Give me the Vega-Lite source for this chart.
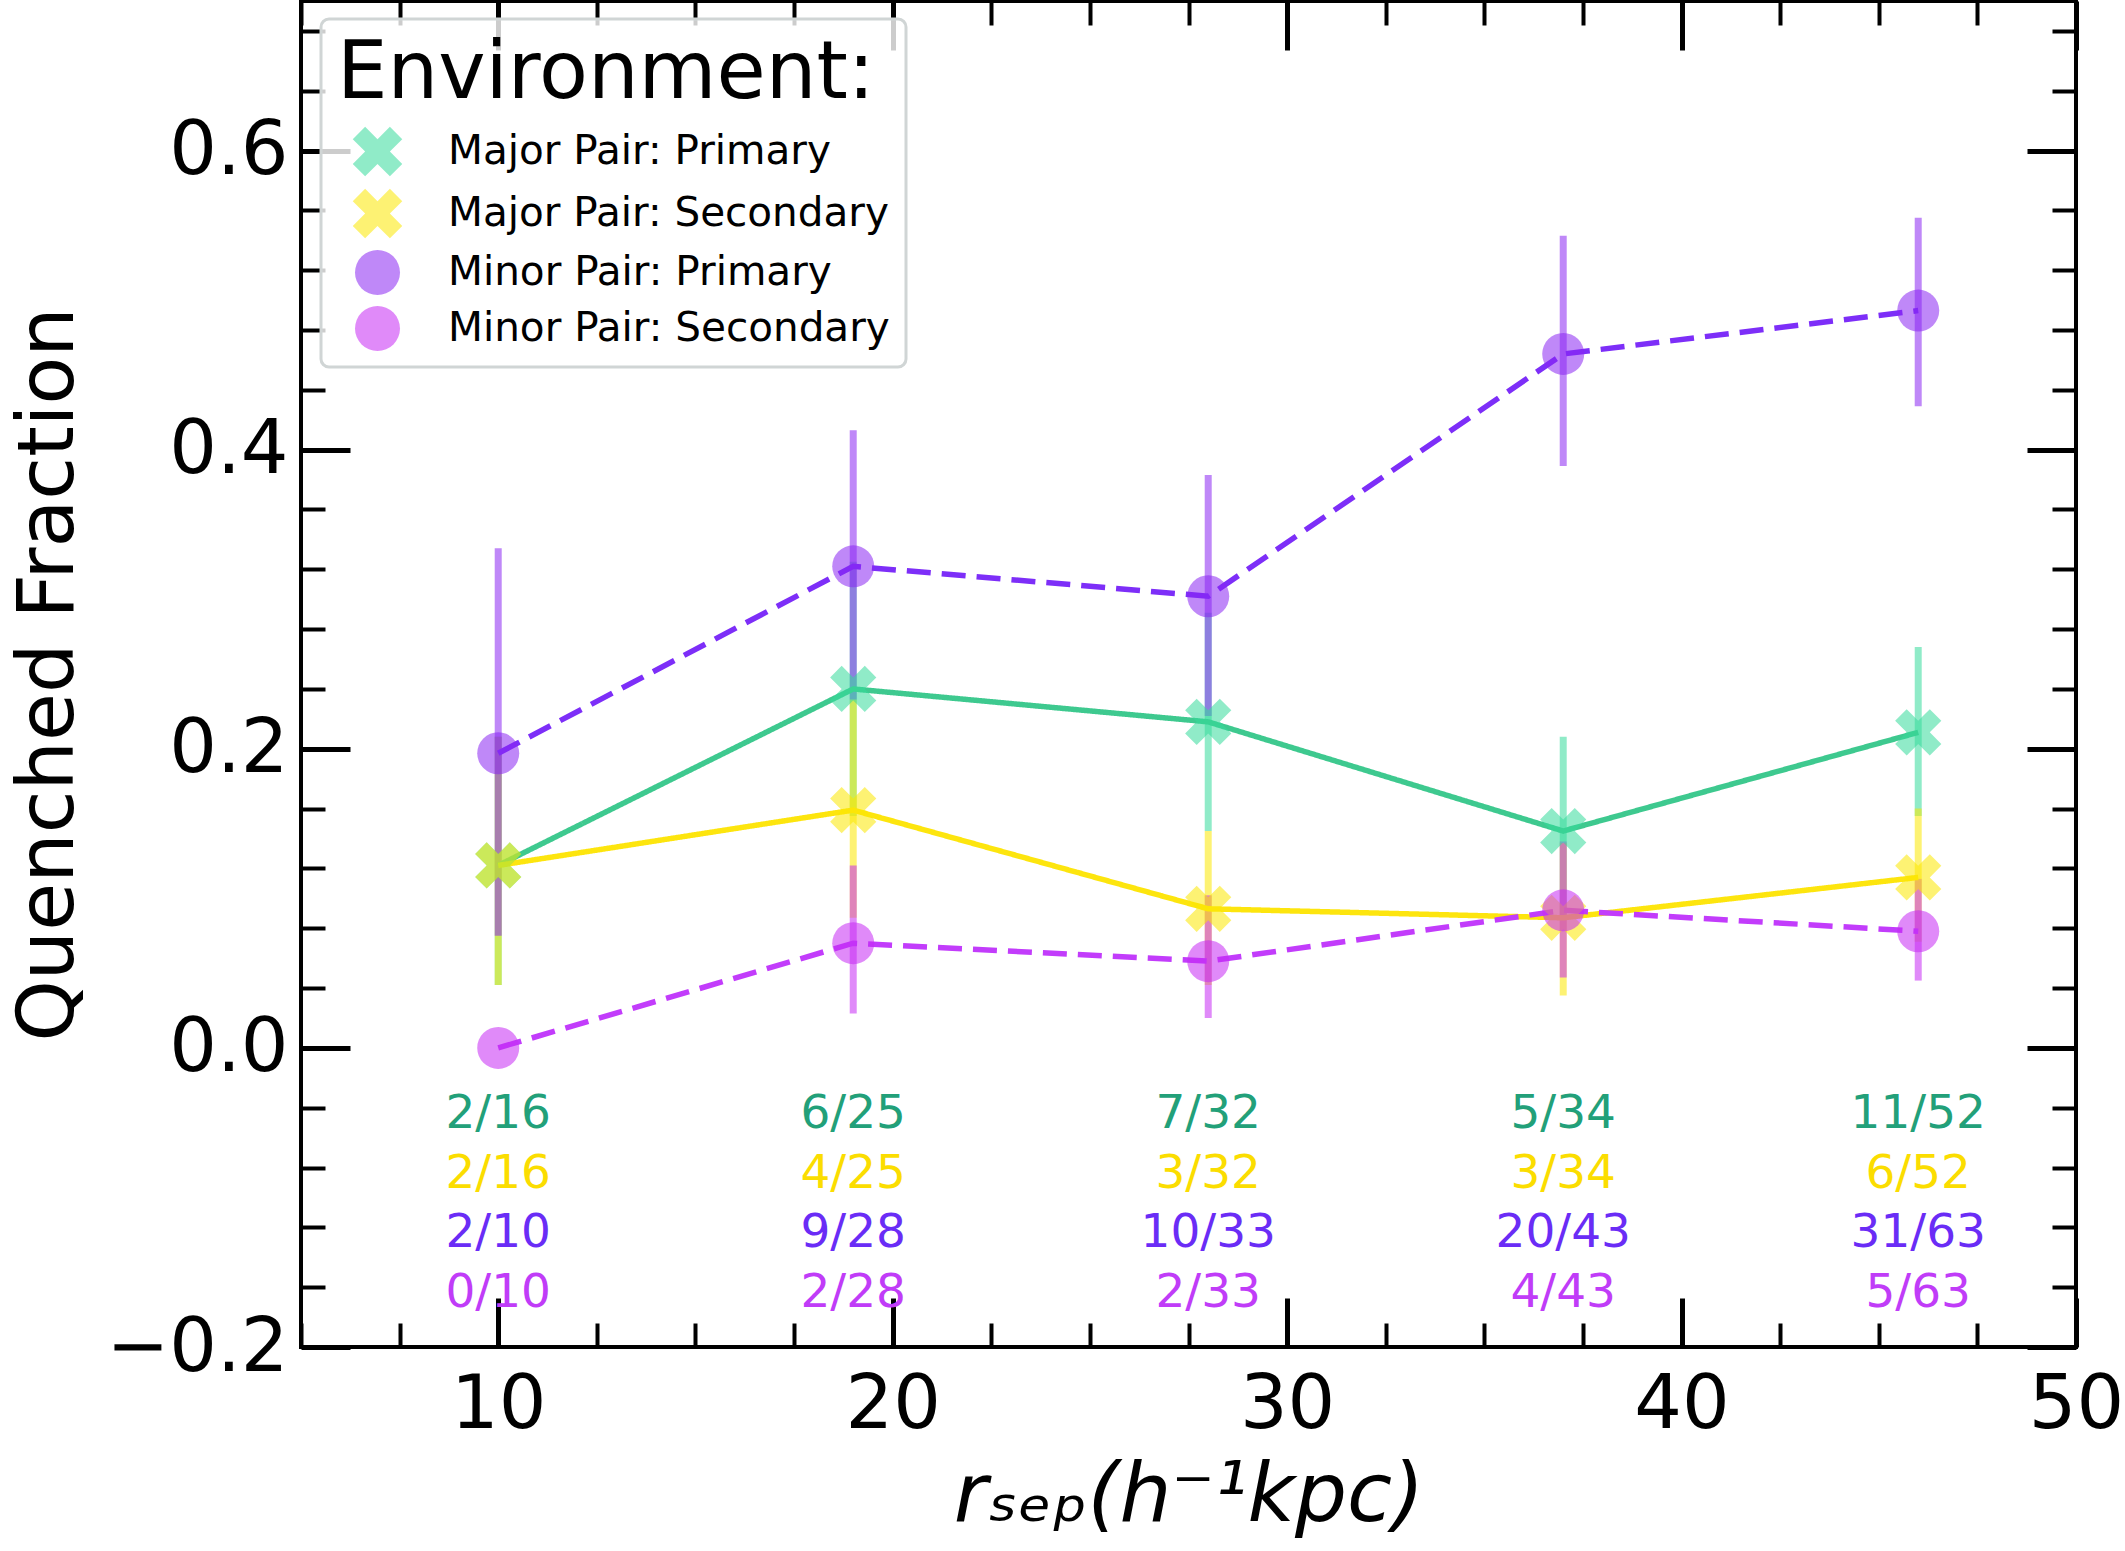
{
  "$schema": "https://vega.github.io/schema/vega-lite/v6.json",
  "width": 1775,
  "height": 1346,
  "autosize": {"type": "none"},
  "padding": {"left": 301, "top": 1, "right": 49, "bottom": 204},
  "background": "white",
  "config": {
    "font": "DejaVu Sans",
    "view": {"stroke": "black", "strokeWidth": 4},
    "axis": {"grid": false, "domain": false, "labelFont": "DejaVu Sans", "titleFont": "DejaVu Sans", "labelColor": "black", "titleColor": "black", "tickColor": "black", "titleFontWeight": "normal", "labelFlush": false, "labelOverlap": false, "labelLimit": 0},
    "legend": {"strokeWidth": 3}
  },
  "datasets": {
    "pts": [
      {"s": "Major Pair: Primary", "x": 10, "f": 0.122, "lo": 0.042, "hi": 0.208, "n": "2/16"},
      {"s": "Major Pair: Primary", "x": 19, "f": 0.240, "lo": 0.155, "hi": 0.325, "n": "6/25"},
      {"s": "Major Pair: Primary", "x": 28, "f": 0.218, "lo": 0.145, "hi": 0.291, "n": "7/32"},
      {"s": "Major Pair: Primary", "x": 37, "f": 0.145, "lo": 0.086, "hi": 0.208, "n": "5/34"},
      {"s": "Major Pair: Primary", "x": 46, "f": 0.211, "lo": 0.155, "hi": 0.268, "n": "11/52"},
      {"s": "Major Pair: Secondary", "x": 10, "f": 0.122, "lo": 0.042, "hi": 0.208, "n": "2/16"},
      {"s": "Major Pair: Secondary", "x": 19, "f": 0.159, "lo": 0.087, "hi": 0.233, "n": "4/25"},
      {"s": "Major Pair: Secondary", "x": 28, "f": 0.093, "lo": 0.042, "hi": 0.145, "n": "3/32"},
      {"s": "Major Pair: Secondary", "x": 37, "f": 0.087, "lo": 0.035, "hi": 0.137, "n": "3/34"},
      {"s": "Major Pair: Secondary", "x": 46, "f": 0.114, "lo": 0.071, "hi": 0.160, "n": "6/52"},
      {"s": "Minor Pair: Primary", "x": 10, "f": 0.197, "lo": 0.075, "hi": 0.334, "n": "2/10"},
      {"s": "Minor Pair: Primary", "x": 19, "f": 0.322, "lo": 0.233, "hi": 0.413, "n": "9/28"},
      {"s": "Minor Pair: Primary", "x": 28, "f": 0.302, "lo": 0.222, "hi": 0.383, "n": "10/33"},
      {"s": "Minor Pair: Primary", "x": 37, "f": 0.464, "lo": 0.389, "hi": 0.543, "n": "20/43"},
      {"s": "Minor Pair: Primary", "x": 46, "f": 0.493, "lo": 0.429, "hi": 0.555, "n": "31/63"},
      {"s": "Minor Pair: Secondary", "x": 10, "f": 0.000, "lo": 0.000, "hi": 0.000, "n": "0/10"},
      {"s": "Minor Pair: Secondary", "x": 19, "f": 0.070, "lo": 0.023, "hi": 0.122, "n": "2/28"},
      {"s": "Minor Pair: Secondary", "x": 28, "f": 0.058, "lo": 0.020, "hi": 0.102, "n": "2/33"},
      {"s": "Minor Pair: Secondary", "x": 37, "f": 0.092, "lo": 0.047, "hi": 0.138, "n": "4/43"},
      {"s": "Minor Pair: Secondary", "x": 46, "f": 0.078, "lo": 0.045, "hi": 0.113, "n": "5/63"}
    ]
  },
  "data": {"name": "pts"},
  "resolve": {"axis": {"x": "independent", "y": "independent"}},
  "layer": [
    {
      "mark": {"type": "rule", "strokeWidth": 7, "opacity": 0.55, "strokeCap": "butt"},
      "encoding": {
        "x": {"field": "x", "type": "quantitative", "scale": {"domain": [5, 50], "nice": false, "zero": false},
          "axis": {"orient": "bottom", "values": [10, 20, 30, 40, 50], "format": "d", "tickSize": -49, "tickWidth": 5, "labelFontSize": 75, "labelPadding": 70, "title": "rₛₑₚ(h⁻¹kpc)", "titleFontSize": 82, "titleFontStyle": "italic", "titleY": 173, "titleBaseline": "alphabetic"}},
        "y": {"field": "lo", "type": "quantitative", "scale": {"domain": [-0.2, 0.7], "nice": false, "zero": false},
          "axis": {"orient": "left", "values": [-0.2, 0, 0.2, 0.4, 0.6], "format": ".1f", "tickSize": -49, "tickWidth": 5, "labelFontSize": 75, "labelPadding": 62, "title": "Quenched Fraction", "titleFontSize": 78, "titleX": -229, "titleY": 673, "titleAngle": -90, "titleAlign": "center", "titleBaseline": "alphabetic"}},
        "y2": {"field": "hi"},
        "stroke": {"field": "s", "type": "nominal", "scale": {"range": ["#35db9b", "#fbe700", "#8b27f2", "#c72af4"]}, "legend": null}
      }
    },
    {
      "mark": {"type": "line"},
      "encoding": {
        "x": {"field": "x", "type": "quantitative",
          "axis": {"orient": "bottom", "values": [5, 7.5, 12.5, 15, 17.5, 22.5, 25, 27.5, 32.5, 35, 37.5, 42.5, 45, 47.5], "tickSize": -24, "tickWidth": 4, "labels": false, "title": null}},
        "y": {"field": "f", "type": "quantitative",
          "axis": {"orient": "left", "values": [-0.16, -0.12, -0.08, -0.04, 0.04, 0.08, 0.12, 0.16, 0.24, 0.28, 0.32, 0.36, 0.44, 0.48, 0.52, 0.56, 0.64, 0.68], "tickSize": -24, "tickWidth": 4, "labels": false, "title": null}},
        "color": {"field": "s", "type": "nominal", "scale": {"range": ["#3ec98f", "#fde50e", "#7d2ef8", "#c23cfb"]}, "legend": null},
        "strokeDash": {"field": "s", "type": "nominal", "scale": {"range": [[1, 0], [1, 0], [24, 11], [24, 11]]}, "legend": null},
        "strokeWidth": {"field": "s", "type": "nominal", "scale": {"range": [5.5, 5.5, 7, 7]}, "legend": null}
      }
    },
    {
      "mark": {"type": "point", "filled": true, "opacity": 0.55, "size": 1764, "strokeWidth": 0},
      "encoding": {
        "x": {"field": "x", "type": "quantitative",
          "axis": {"orient": "top", "values": [10, 20, 30, 40, 50], "tickSize": -49, "tickWidth": 5, "labels": false, "title": null}},
        "y": {"field": "f", "type": "quantitative",
          "axis": {"orient": "right", "values": [-0.2, 0, 0.2, 0.4, 0.6], "tickSize": -49, "tickWidth": 5, "labels": false, "title": null}},
        "fill": {"field": "s", "type": "nominal", "scale": {"domain": ["Major Pair: Primary", "Major Pair: Secondary", "Minor Pair: Primary", "Minor Pair: Secondary"], "range": ["#35db9b", "#fbe700", "#8b27f2", "#c72af4"]},
          "legend": {"title": "Environment:", "orient": "none", "legendX": 20, "legendY": 18, "titleFontSize": 80, "titleFont": "DejaVu Sans", "titleFontWeight": "normal", "titleColor": "black", "titlePadding": 14, "titleLimit": 0, "labelFontSize": 40.5, "labelFont": "DejaVu Sans", "labelColor": "black", "labelOffset": 48, "labelLimit": 0, "symbolSize": 2025, "symbolOpacity": 0.55, "symbolOffset": 18, "symbolStrokeWidth": 0, "rowPadding": 11, "padding": 16, "strokeColor": "#d0d5d5", "fillColor": "rgba(255,255,255,0.8)", "cornerRadius": 8}},
        "shape": {"field": "s", "type": "nominal", "scale": {"domain": ["Major Pair: Primary", "Major Pair: Secondary", "Minor Pair: Primary", "Minor Pair: Secondary"], "range": ["M-0.55,-1.1L0,-0.55L0.55,-1.1L1.1,-0.55L0.55,0L1.1,0.55L0.55,1.1L0,0.55L-0.55,1.1L-1.1,0.55L-0.55,0L-1.1,-0.55Z", "M-0.55,-1.1L0,-0.55L0.55,-1.1L1.1,-0.55L0.55,0L1.1,0.55L0.55,1.1L0,0.55L-0.55,1.1L-1.1,0.55L-0.55,0L-1.1,-0.55Z", "circle", "circle"]},
          "legend": {"title": "Environment:", "orient": "none", "legendX": 20, "legendY": 18, "titleFontSize": 80, "titleFont": "DejaVu Sans", "titleFontWeight": "normal", "titleColor": "black", "titlePadding": 14, "titleLimit": 0, "labelFontSize": 40.5, "labelFont": "DejaVu Sans", "labelColor": "black", "labelOffset": 48, "labelLimit": 0, "symbolSize": 2025, "symbolOpacity": 0.55, "symbolOffset": 18, "symbolStrokeWidth": 0, "rowPadding": 11, "padding": 16, "strokeColor": "#d0d5d5", "fillColor": "rgba(255,255,255,0.8)", "cornerRadius": 8}}
      }
    },
    {
      "mark": {"type": "point", "opacity": 0},
      "encoding": {
        "x": {"field": "x", "type": "quantitative",
          "axis": {"orient": "top", "values": [5, 7.5, 12.5, 15, 17.5, 22.5, 25, 27.5, 32.5, 35, 37.5, 42.5, 45, 47.5], "tickSize": -24, "tickWidth": 4, "labels": false, "title": null}},
        "y": {"field": "f", "type": "quantitative",
          "axis": {"orient": "right", "values": [-0.16, -0.12, -0.08, -0.04, 0.04, 0.08, 0.12, 0.16, 0.24, 0.28, 0.32, 0.36, 0.44, 0.48, 0.52, 0.56, 0.64, 0.68], "tickSize": -24, "tickWidth": 4, "labels": false, "title": null}}
      }
    },
    {
      "transform": [{"filter": {"field": "s", "equal": "Major Pair: Primary"}}],
      "mark": {"type": "text", "fontSize": 47, "font": "DejaVu Sans", "align": "center", "baseline": "middle", "color": "#22a079"},
      "encoding": {
        "x": {"field": "x", "type": "quantitative", "axis": null},
        "y": {"datum": -0.044, "type": "quantitative", "axis": null},
        "text": {"field": "n"}
      }
    },
    {
      "transform": [{"filter": {"field": "s", "equal": "Major Pair: Secondary"}}],
      "mark": {"type": "text", "fontSize": 47, "font": "DejaVu Sans", "align": "center", "baseline": "middle", "color": "#fbdd00"},
      "encoding": {
        "x": {"field": "x", "type": "quantitative", "axis": null},
        "y": {"datum": -0.084, "type": "quantitative", "axis": null},
        "text": {"field": "n"}
      }
    },
    {
      "transform": [{"filter": {"field": "s", "equal": "Minor Pair: Primary"}}],
      "mark": {"type": "text", "fontSize": 47, "font": "DejaVu Sans", "align": "center", "baseline": "middle", "color": "#6a2cf6"},
      "encoding": {
        "x": {"field": "x", "type": "quantitative", "axis": null},
        "y": {"datum": -0.124, "type": "quantitative", "axis": null},
        "text": {"field": "n"}
      }
    },
    {
      "transform": [{"filter": {"field": "s", "equal": "Minor Pair: Secondary"}}],
      "mark": {"type": "text", "fontSize": 47, "font": "DejaVu Sans", "align": "center", "baseline": "middle", "color": "#c03cf8"},
      "encoding": {
        "x": {"field": "x", "type": "quantitative", "axis": null},
        "y": {"datum": -0.164, "type": "quantitative", "axis": null},
        "text": {"field": "n"}
      }
    }
  ]
}
